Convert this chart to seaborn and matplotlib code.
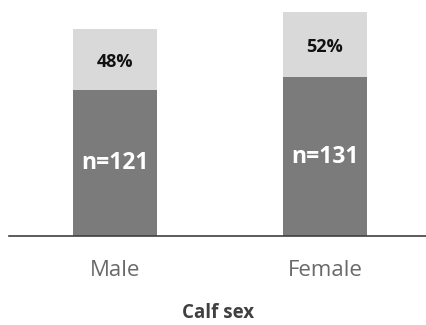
import matplotlib
matplotlib.use("Agg")
import matplotlib.pyplot as plt
import seaborn as sns
import pandas as pd

# Calf counts by sex and the stacked upper segment
categories = ["Male", "Female"]
counts = [121, 131]
upper = [50, 54]
shares = ["48%", "52%"]

sns.set_theme(style="white")
plt.rcParams["font.family"] = ["Open Sans", "DejaVu Sans"]

df = pd.DataFrame({"sex": categories, "n": counts, "upper": upper})
df["total"] = df["n"] + df["upper"]

fig = plt.figure(figsize=(4.27, 3.25), dpi=100)
ax = fig.add_axes([9 / 427, 89 / 325, 1 - 9 / 427, 236 / 325])

sns.barplot(data=df, x="sex", y="total", color="#d9d9d9", width=0.4,
            saturation=1, linewidth=0, ax=ax)
sns.barplot(data=df, x="sex", y="n", color="#7b7b7b", width=0.4,
            saturation=1, linewidth=0, ax=ax)

for i, (n, up, s) in enumerate(zip(counts, upper, shares)):
    ax.text(i, n / 2, f"n={n}", ha="center", va="center", color="white",
            fontsize=16.5, fontweight="bold")
    ax.text(i, n + up / 2 - 2, s, ha="center", va="center", color="#111111",
            fontsize=13, fontweight="bold")

ax.set_xlim(-0.505, 1.486)
ax.set_ylim(0, 195)
ax.set_yticks([])
for side in ["top", "right", "left"]:
    ax.spines[side].set_visible(False)
ax.spines["bottom"].set_color("#404040")
ax.spines["bottom"].set_linewidth(1.2)
ax.tick_params(axis="x", length=0, pad=17, labelsize=16, labelcolor="#6a6a6a")
ax.set_ylabel("")
ax.set_xlabel("")
fig.text(218 / 427, 1 - 313 / 325, "Calf sex", ha="center", va="center",
         fontsize=13.5, fontweight="bold", color="#404040")

fig.savefig("out.png", dpi=100)
